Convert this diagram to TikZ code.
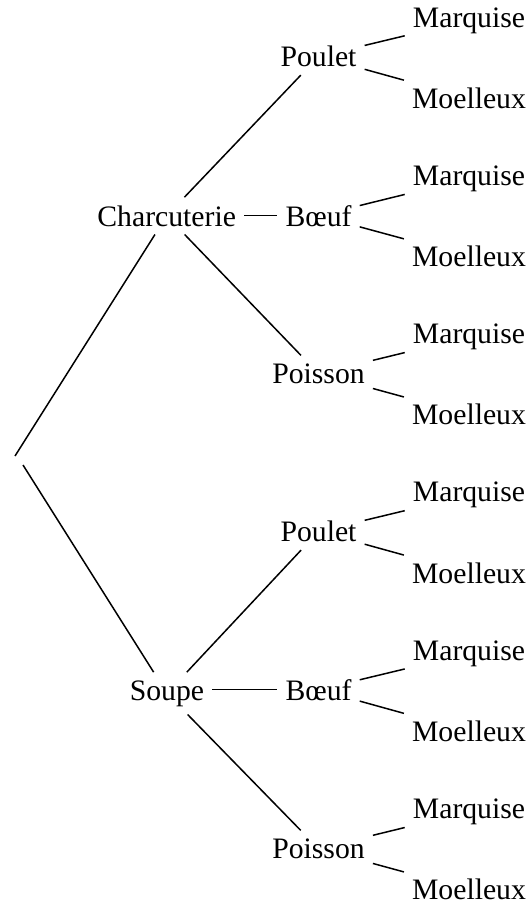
\documentclass[tikz,border=0pt]{standalone}
\usepackage{fontspec}
\setmainfont{Liberation Serif}
\begin{document}
\begin{tikzpicture}[x=1pt,y=1pt,
  lbl/.style={anchor=base, inner sep=8pt, font=\fontsize{29.7}{34}\selectfont},
  edge/.style={line width=1.5pt}]
\useasboundingbox (0,0) rectangle (530,-906);
% root ends
\coordinate (rt) at (15,-456);
\coordinate (rb) at (23,-465);
% level 1
\node[lbl] (c) at (166.7,-226) {Charcuterie};
\node[lbl] (s) at (167,-700) {Soupe};
% level 2
\node[lbl] (c1) at (318.5,-66.7) {Poulet};
\node[lbl] (c2) at (318.5,-226) {Bœuf};
\node[lbl] (c3) at (318.5,-383.3) {Poisson};
\node[lbl] (s1) at (318.5,-541.6) {Poulet};
\node[lbl] (s2) at (318.5,-700) {Bœuf};
\node[lbl] (s3) at (318.5,-858.3) {Poisson};
% level 3
\foreach \p/\k in {c1/0,c2/1,c3/2,s1/3,s2/4,s3/5}{
  \node[lbl] (\p a) at (469,-27-158.3*\k) {Marquise};
  \node[lbl] (\p b) at (469,-108.3-158.3*\k) {Moelleux};
  \draw[edge] (\p) -- (\p a);
  \draw[edge] (\p) -- (\p b);
}
\draw[edge] (c) -- (rt);
\draw[edge] (s) -- (rb);
\foreach \p in {c,s}{
  \draw[edge] (\p) -- (\p1);
  \draw[edge] (\p2.west -| \p.east) -- (\p2.west);
  \draw[edge] (\p) -- (\p3);
}
\end{tikzpicture}
\end{document}
